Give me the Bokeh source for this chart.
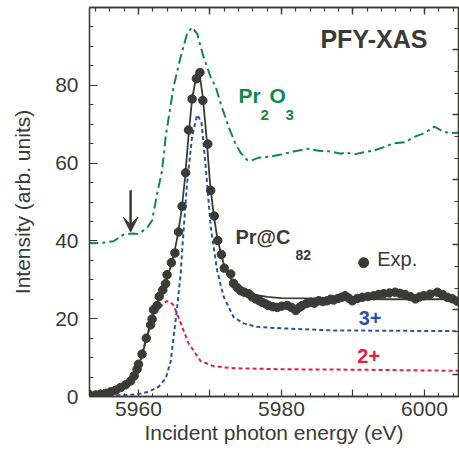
from bokeh.plotting import figure
from bokeh.models import Range1d, LinearAxis, FixedTicker, Arrow, VeeHead
from bokeh.core.properties import value
from bokeh.embed import file_html
from bokeh.resources import INLINE

# ---------------- data ----------------
exp_e = [5953.0, 5954.0, 5954.7, 5955.4, 5956.1, 5956.8, 5957.5, 5958.2, 5958.9, 5959.4,
         5959.8, 5960.0, 5960.5, 5961.1, 5961.7, 5961.9, 5962.1, 5962.6, 5962.9, 5963.4,
         5963.8, 5964.0, 5964.6, 5965.1, 5965.6, 5966.1, 5966.6, 5967.0, 5967.5, 5968.1,
         5968.6, 5969.0, 5969.7, 5970.1, 5970.6, 5971.1, 5971.6, 5972.0, 5972.9, 5973.3,
         5973.8, 5974.3, 5974.8, 5975.4, 5975.9, 5976.4, 5976.9, 5977.3, 5977.8, 5978.2,
         5978.8, 5979.4, 5980.0, 5980.8, 5981.4, 5982.0, 5982.5, 5982.9, 5983.5, 5984.1,
         5984.6, 5985.2, 5985.8, 5986.4, 5986.9, 5987.3, 5987.9, 5988.4, 5988.9, 5989.4,
         5989.9, 5990.6, 5991.3, 5992.1, 5992.9, 5993.6, 5994.3, 5995.1, 5995.9, 5996.6,
         5997.3, 5998.0, 5998.7, 5999.3, 5999.9, 6000.8, 6001.8, 6002.5, 6003.2, 6003.9,
         6004.6]
exp_i = [0.7, 0.4, 0.6, 0.8, 1.2, 1.6, 2.3, 3.0, 4.0, 5.3,
         7.0, 8.3, 10.9, 15.0, 18.4, 19.9, 22.3, 23.4, 25.7, 27.4,
         29.0, 31.3, 34.4, 36.9, 42.3, 48.9, 57.5, 68.5, 76.5, 81.7,
         83.3, 76.1, 64.9, 53.0, 46.4, 40.1, 36.5, 33.0, 31.5, 29.1,
         28.0, 27.2, 26.8, 26.4, 25.6, 25.1, 24.6, 24.2, 23.8, 23.4,
         23.1, 22.9, 23.2, 23.4, 22.9, 22.1, 22.9, 23.4, 23.9, 24.2,
         24.0, 24.6, 24.4, 24.6, 25.0, 24.8, 25.2, 25.5, 25.9, 25.3,
         24.6, 25.2, 25.5, 25.7, 25.9, 26.2, 26.4, 26.6, 26.8, 26.5,
         26.2, 25.7, 25.1, 25.6, 25.9, 26.3, 26.8, 26.2, 25.5, 25.1,
         24.5]

fit_e = [5953.0, 5955.0, 5956.0, 5957.0, 5958.0, 5959.0, 5959.5, 5960.0, 5960.5, 5961.0,
         5961.5, 5962.0, 5962.5, 5963.0, 5963.5, 5964.0, 5964.5, 5965.0, 5965.5, 5966.0,
         5966.5, 5967.0, 5967.5, 5968.0, 5968.5, 5969.0, 5969.5, 5970.0, 5970.5, 5971.0,
         5971.5, 5972.0, 5973.0, 5974.0, 5975.0, 5976.0, 5977.0, 5978.0, 5980.0, 5985.0,
         5990.0, 5995.0, 6000.0, 6004.8]
fit_i = [0.3, 0.6, 1.0, 1.7, 2.7, 4.3, 5.6, 7.8, 10.7, 14.0,
         17.4, 20.5, 23.2, 25.6, 27.8, 30.3, 33.5, 37.0, 41.5, 47.5,
         56.0, 67.0, 76.5, 81.5, 83.5, 77.0, 67.0, 55.0, 47.0, 41.0,
         37.0, 33.5, 30.0, 28.0, 27.0, 26.3, 25.9, 25.6, 25.3, 25.2,
         25.1, 25.0, 25.0, 25.0]

p3_e = [5953.0, 5955.0, 5957.2, 5959.6, 5961.4, 5962.8, 5963.8, 5964.5, 5964.9, 5965.4,
        5965.9, 5966.2, 5966.8, 5967.5, 5968.2, 5968.8, 5969.2, 5969.6, 5970.1, 5971.0,
        5971.9, 5973.3, 5974.7, 5976.6, 5980.3, 5986.9, 5995.0, 6004.8]
p3_i = [0.05, 0.1, 0.3, 0.5, 1.2, 2.5, 4.6, 9.0, 15.1, 22.8,
        31.5, 40.0, 54.8, 66.8, 72.4, 70.6, 63.1, 54.8, 43.6, 32.4,
        25.7, 20.4, 18.8, 17.9, 17.5, 17.0, 16.9, 16.8]

p2_e = [5953.0, 5955.0, 5957.0, 5958.5, 5959.5, 5960.3, 5961.0, 5961.9, 5962.8, 5963.5,
        5964.0, 5964.5, 5964.9, 5965.9, 5967.0, 5968.7, 5970.5, 5972.9, 5980.0, 5990.0,
        6004.8]
p2_i = [0.3, 0.6, 1.3, 3.0, 5.5, 9.5, 14.5, 19.4, 22.4, 24.0,
        24.5, 24.2, 23.5, 18.9, 13.7, 9.1, 7.8, 7.3, 7.0, 6.9,
        6.6]

ox_e = [5953.0, 5953.5, 5954.9, 5956.5, 5957.9, 5959.1, 5960.0, 5961.2, 5961.9, 5962.6,
        5963.3, 5963.8, 5964.9, 5965.9, 5966.8, 5967.5, 5968.2, 5969.1, 5970.1, 5970.8,
        5971.5, 5972.6, 5973.6, 5974.3, 5975.2, 5975.7, 5976.8, 5978.5, 5979.9, 5981.7,
        5983.6, 5985.2, 5986.9, 5988.3, 5989.0, 5990.1, 5991.5, 5992.9, 5994.3, 5995.7,
        5997.3, 5998.5, 5999.7, 6000.6, 6001.4, 6002.5, 6003.6, 6004.8]
ox_i = [39.6, 39.4, 39.5, 39.9, 41.6, 41.9, 41.8, 43.3, 45.2, 52.0,
        58.1, 66.7, 79.6, 87.3, 93.3, 94.9, 93.3, 87.3, 82.1, 79.6,
        75.3, 69.3, 64.9, 62.6, 60.8, 60.6, 61.4, 61.7, 62.2, 63.0,
        63.7, 63.2, 63.0, 62.4, 62.8, 62.2, 62.8, 63.2, 64.1, 65.1,
        65.4, 66.7, 67.5, 68.4, 69.4, 68.2, 67.7, 67.8]

x_major = [5950, 5960, 5970, 5980, 5990, 6000]
x_minor = list(range(5954, 6006, 2))
x_labels = {5950: "", 5970: "", 5990: ""}
x_long = [5960, 5970, 5980, 5990, 6000]
y_major = [0, 20, 40, 60, 80]
y_minor = list(range(0, 101, 5))
r_long = [1, 4, 7, 10, 13, 16]
r_short = list(range(0, 19))

# ---------------- styling ----------------
DARK = "#3a3a36"
GREEN = "#12874c"
BLUE = "#2b50ab"
RED = "#e3213f"
FONT = value("Liberation Sans")

p = figure(width=459, height=455,
           x_range=Range1d(5953.15, 6004.76), y_range=Range1d(0, 100),
           output_backend="svg", toolbar_location=None,
           min_border_left=89, min_border_right=1, min_border_top=7, min_border_bottom=59,
           x_axis_location=None, y_axis_location=None)
p.grid.visible = False
p.outline_line_color = DARK
p.outline_line_width = 1.3
p.background_fill_color = "white"
p.border_fill_color = "white"
p.extra_y_ranges = {"r": Range1d(0, 389 / 21.67)}


def style_axis(ax):
    ax.axis_line_color = DARK
    ax.axis_line_width = 1.3
    ax.major_tick_line_color = DARK
    ax.minor_tick_line_color = DARK
    ax.major_tick_line_width = 1.2
    ax.minor_tick_line_width = 1.0
    ax.major_tick_in = 7
    ax.major_tick_out = 0
    ax.minor_tick_in = 3
    ax.minor_tick_out = 0
    ax.major_label_text_font = "Liberation Sans"
    ax.major_label_text_font_size = "21px"
    ax.major_label_text_color = DARK
    ax.axis_label_text_font = "Liberation Sans"
    ax.axis_label_text_font_size = "21px"
    ax.axis_label_text_font_style = "normal"
    ax.axis_label_text_color = DARK


def tick_only_axis(major, minor, major_len, minor_len, font_size, **kw):
    ax = LinearAxis(ticker=FixedTicker(ticks=major, minor_ticks=minor),
                    major_label_overrides={t: "" for t in major}, **kw)
    style_axis(ax)
    ax.major_tick_in = major_len
    ax.minor_tick_in = minor_len
    ax.major_tick_line_width = 1.4
    ax.minor_tick_line_width = 1.2
    ax.major_label_text_font_size = font_size
    ax.major_label_standoff = 0
    ax.axis_label_standoff = 0
    return ax


xb = LinearAxis(ticker=FixedTicker(ticks=x_major, minor_ticks=x_minor),
                major_label_overrides=x_labels, axis_label="Incident photon energy (eV)")
style_axis(xb)
xb.major_label_standoff = 5
xb.axis_label_standoff = 2
p.add_layout(xb, "below")

p.add_layout(tick_only_axis(x_long, x_minor, 7, 4, "1px"), "above")

yl = LinearAxis(ticker=FixedTicker(ticks=y_major, minor_ticks=y_minor),
                axis_label="Intensity (arb. units)")
style_axis(yl)
yl.major_tick_in = 8
yl.minor_tick_in = 4
yl.major_label_standoff = 11
yl.axis_label_standoff = 18
p.add_layout(yl, "left")

p.add_layout(tick_only_axis(r_long, r_short, 6, 4, "21px", y_range_name="r"), "right")

# ---------------- curves ----------------
p.line(ox_e, ox_i, line_color=GREEN, line_width=2, line_dash="10 4 3 4")
p.line(p2_e, p2_i, line_color=RED, line_width=2, line_dash="4 3")
p.line(p3_e, p3_i, line_color=BLUE, line_width=2, line_dash="4 3")
p.line(fit_e, fit_i, line_color=DARK, line_width=1.8)
p.scatter(exp_e, exp_i, size=8.5, fill_color=DARK, line_color=DARK)

# ---------------- annotations ----------------
p.text(x=[5985.45], y=[88.4], text=["PFY-XAS"], text_font=FONT, text_font_style="bold",
       text_font_size="25px", text_color=DARK)

p.text(x=[5974.0] * 4, y=[74.5] * 4, text=["Pr", "2", "O", "3"],
       x_offset=[0, 22, 31, 47], y_offset=[0, 13.5, 0, 13.5],
       text_font=FONT, text_font_style="bold",
       text_font_size=["21px", "15px", "21px", "15px"], text_color=GREEN)

p.text(x=[5973.57] * 2, y=[38.25] * 2, text=["Pr@C", "82"],
       x_offset=[0, 60], y_offset=[0, 12.7],
       text_font=FONT, text_font_style="bold",
       text_font_size=["20px", "14px"], text_color=DARK)

p.scatter([5991.5], [34.4], size=10, fill_color=DARK, line_color=DARK)
p.text(x=[5993.4], y=[32.6], text=["Exp."], text_font=FONT,
       text_font_size="20px", text_color=DARK)

p.text(x=[5990.8], y=[18.4], text=["3+"], text_font=FONT, text_font_style="bold",
       text_font_size="20px", text_color=BLUE)
p.text(x=[5990.6], y=[8.6], text=["2+"], text_font=FONT, text_font_style="bold",
       text_font_size="20px", text_color=RED)

p.add_layout(Arrow(x_start=5958.9, y_start=53.0, x_end=5958.9, y_end=42.3,
                   line_color=DARK, line_width=2.5,
                   end=VeeHead(size=15, fill_color=DARK, line_color=DARK)))

open("out.html", "w").write(file_html(p, INLINE))
